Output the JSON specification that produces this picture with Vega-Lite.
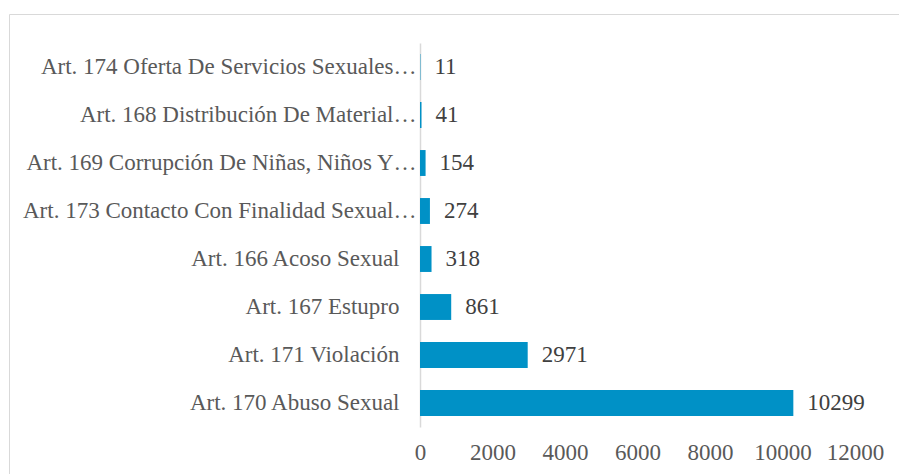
{
  "$schema": "https://vega.github.io/schema/vega-lite/v6.json",
  "autosize": {"type": "none"},
  "padding": {"left": 9, "top": 14, "right": 0, "bottom": 0},
  "width": 900,
  "height": 470,
  "background": "white",
  "config": {
    "view": {"stroke": "#D9D9D9", "strokeWidth": 1},
    "font": "Liberation Serif"
  },
  "data": {
    "values": [
      {"categoria": "Art. 174 Oferta De Servicios Sexuales…", "casos": 11},
      {"categoria": "Art. 168 Distribución De Material…", "casos": 41},
      {"categoria": "Art. 169 Corrupción De Niñas, Niños Y…", "casos": 154},
      {"categoria": "Art. 173 Contacto Con Finalidad Sexual…", "casos": 274},
      {"categoria": "Art. 166 Acoso Sexual", "casos": 318},
      {"categoria": "Art. 167 Estupro", "casos": 861},
      {"categoria": "Art. 171 Violación", "casos": 2971},
      {"categoria": "Art. 170 Abuso Sexual", "casos": 10299}
    ]
  },
  "encoding": {
    "y": {
      "field": "categoria",
      "type": "nominal",
      "sort": null,
      "scale": {"range": [29, 413], "paddingInner": 0.46, "paddingOuter": 0.23},
      "axis": {
        "title": null,
        "offset": -411,
        "domainColor": "#D9D9D9",
        "domainWidth": 1.5,
        "ticks": false,
        "labelFont": "Liberation Serif",
        "labelFontSize": 23,
        "labelColor": "#595959",
        "labelLimit": 0,
        "labelPadding": {"condition": {"test": "indexof(datum.label, '…') >= 0", "value": 4}, "value": 21}
      }
    },
    "x": {
      "field": "casos",
      "type": "quantitative",
      "scale": {"domain": [0, 12000], "range": [411, 846], "nice": false, "zero": true},
      "axis": {
        "title": null,
        "orient": "bottom",
        "offset": -57,
        "values": [0, 2000, 4000, 6000, 8000, 10000, 12000],
        "domain": false,
        "ticks": false,
        "grid": false,
        "labelFont": "Liberation Serif",
        "labelFontSize": 23,
        "labelColor": "#595959",
        "labelPadding": 14,
        "labelFlush": false,
        "format": "d"
      }
    }
  },
  "layer": [
    {"mark": {"type": "bar", "color": "#0091C6"}},
    {
      "mark": {"type": "text", "align": "left", "baseline": "middle", "dx": 14, "font": "Liberation Serif", "fontSize": 23, "color": "#404040"},
      "encoding": {"text": {"field": "casos", "type": "quantitative", "format": "d"}}
    }
  ]
}
